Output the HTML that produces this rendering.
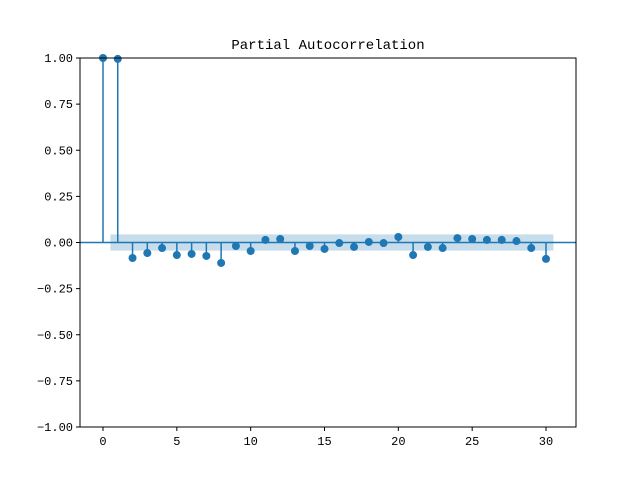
<!DOCTYPE html>
<html><head><meta charset="utf-8"><style>html,body{margin:0;padding:0;background:#fff}svg{display:block}text{font-family:"WenQuanYi Zen Hei","Liberation Mono",sans-serif;font-size:12px;fill:#000}</style></head><body>
<svg width="640" height="480" viewBox="0 0 640 480" xmlns="http://www.w3.org/2000/svg">
<rect width="640" height="480" fill="#fff"/>
<g id="plot"></g>
<rect x="80" y="58" width="496" height="369" fill="none" stroke="#000" stroke-width="1"/>
<text x="328" y="49" text-anchor="middle" style="font-size:14px">Partial Autocorrelation</text>
<g id="axes"></g>
</svg>
<script>
var vals=[1,0.995,-0.084,-0.057,-0.03,-0.068,-0.062,-0.073,-0.111,-0.019,-0.046,0.014,0.019,-0.046,-0.019,-0.035,-0.003,-0.024,0.003,-0.003,0.03,-0.068,-0.024,-0.03,0.024,0.019,0.014,0.014,0.008,-0.03,-0.089];
function X(v){return 103+v*14.767;}function Y(v){return 242.5-v*184.5;}
var s='';var c='#1f77b4';
s+='<rect x="'+X(0.5)+'" y="'+Y(0.044)+'" width="'+(X(30.5)-X(0.5))+'" height="'+(Y(-0.044)-Y(0.044))+'" fill="'+c+'" fill-opacity="0.25"/>';
s+='<line x1="80" x2="576" y1="'+Y(0)+'" y2="'+Y(0)+'" stroke="'+c+'" stroke-width="1.5"/>';
for(var i=0;i<vals.length;i++){s+='<line x1="'+X(i)+'" x2="'+X(i)+'" y1="'+Y(0)+'" y2="'+Y(vals[i])+'" stroke="'+c+'" stroke-width="1.5"/>';s+='<circle cx="'+X(i)+'" cy="'+Y(vals[i])+'" r="4" fill="'+c+'"/>';}
document.getElementById('plot').innerHTML=s;
var a='';
for(var t=0;t<=30;t+=5){a+='<line x1="'+X(t)+'" x2="'+X(t)+'" y1="427" y2="431" stroke="#000"/><text x="'+X(t)+'" y="445" text-anchor="middle">'+t+'</text>';}
for(var k=-4;k<=4;k++){var v=k*0.25;var l=(v<0?'\u22120':'0')+'';l=(v<0?'\u2212':'')+Math.abs(v).toFixed(2);a+='<line x1="76" x2="80" y1="'+Y(v)+'" y2="'+Y(v)+'" stroke="#000"/><text x="73" y="'+(Y(v)+4)+'" text-anchor="end">'+l+'</text>';}
document.getElementById('axes').innerHTML=a;
</script>
</body></html>
